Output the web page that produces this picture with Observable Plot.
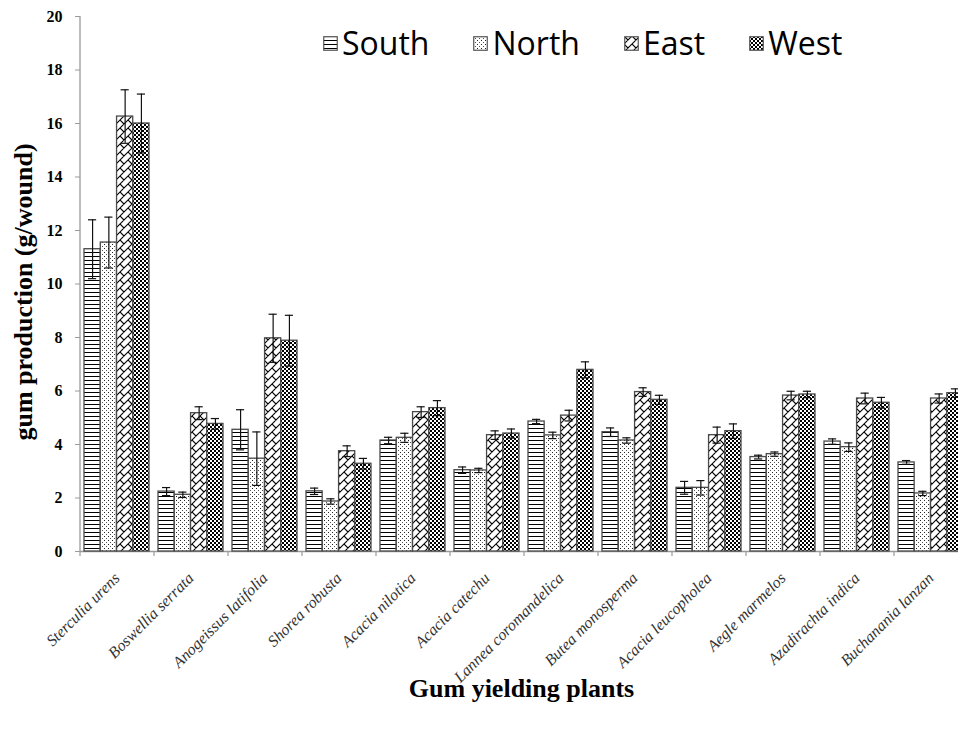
<!DOCTYPE html>
<html>
<head>
<meta charset="utf-8">
<script src="https://cdn.jsdelivr.net/npm/d3@7"></script>
<script src="https://cdn.jsdelivr.net/npm/@observablehq/plot@0.6"></script>
<style>
  html, body { margin: 0; padding: 0; background: #fff; overflow: hidden; }
  #wrap { position: relative; width: 958px; height: 731px; }
  #legend { position: absolute; left: 323px; top: 27px; display: flex; align-items: center; gap: 44px;
    font-family: "Open Sans", sans-serif; font-size: 32px; color: #000; line-height: 1; }
  #legend .item { display: flex; align-items: center; gap: 4px; }
  #legend svg { display: block; }
  #defs { position: absolute; width: 0; height: 0; }
</style>
</head>
<body>
<svg id="defs" aria-hidden="true">
  <defs>
    <pattern id="pat-0" patternUnits="userSpaceOnUse" width="6" height="4">
      <rect width="6" height="4" fill="#fff"/>
      <rect y="0" width="6" height="1" fill="#000"/>
    </pattern>
    <pattern id="pat-1" patternUnits="userSpaceOnUse" width="4" height="4">
      <rect width="4" height="4" fill="#fff"/>
      <rect x="0" y="0" width="1" height="1" fill="#222"/>
      <rect x="2" y="2" width="1" height="1" fill="#555"/>
    </pattern>
    <pattern id="pat-2" patternUnits="userSpaceOnUse" width="8" height="8">
      <rect width="8" height="8" fill="#fff"/>
      <path d="M-1,9 L9,-1 M-1,1 L1,-1 M7,9 L9,7 M0,0 L4,4" stroke="#000" stroke-width="1.1" fill="none"/>
    </pattern>
    <pattern id="pat-3" patternUnits="userSpaceOnUse" width="4" height="4">
      <rect width="4" height="4" fill="#fff"/>
      <rect x="0" y="0" width="2" height="2" fill="#000"/>
      <rect x="2" y="2" width="2" height="2" fill="#000"/>
    </pattern>
  </defs>
</svg>
<div id="wrap">
  <div id="chart"></div>
  <div id="legend"></div>
</div>
<script>
const plants = ["Sterculia urens", "Boswellia serrata", "Anogeissus latifolia", "Shorea robusta",
  "Acacia nilotica", "Acacia catechu", "Lannea coromandelica", "Butea monosperma",
  "Acacia leucopholea", "Aegle marmelos", "Azadirachta indica", "Buchanania lanzan"];
const series = ["South", "North", "East", "West"];

const south    = [11.30, 2.24, 4.55, 2.25, 4.15, 3.04, 4.86, 4.46, 2.38, 3.53, 4.11, 3.33];
const southErr = [1.10, 0.15, 0.75, 0.12, 0.12, 0.12, 0.08, 0.16, 0.24, 0.07, 0.10, 0.07];
const north    = [11.55, 2.12, 3.47, 1.87, 4.25, 3.03, 4.34, 4.15, 2.38, 3.64, 3.90, 2.17];
const northErr = [0.95, 0.10, 1.00, 0.10, 0.17, 0.08, 0.12, 0.10, 0.27, 0.08, 0.16, 0.08];
const east     = [16.26, 5.17, 7.97, 3.75, 5.21, 4.35, 5.08, 5.96, 4.35, 5.83, 5.72, 5.72];
const eastErr  = [1.00, 0.24, 0.90, 0.20, 0.20, 0.16, 0.20, 0.16, 0.30, 0.16, 0.20, 0.17];
const west     = [16.00, 4.77, 7.88, 3.28, 5.36, 4.41, 6.79, 5.67, 4.50, 5.87, 5.56, 5.92];
const westErr  = [1.10, 0.20, 0.95, 0.20, 0.28, 0.17, 0.30, 0.17, 0.27, 0.12, 0.20, 0.16];

const yTicks = [0, 2, 4, 6, 8, 10, 12, 14, 16, 18, 20];
const yLabel = "gum production (g/wound)";
const xLabel = "Gum yielding plants";

const values = [south, north, east, west];
const errors = [southErr, northErr, eastErr, westErr];
const bySeries = series.map((s, j) => plants.map((p, i) => ({plant: p, series: s, value: values[j][i], err: errors[j][i]})));

const xRange = [80, 968];
const padIn = 0.12, padOut = 0.06;
const step = (xRange[1] - xRange[0]) / plants.length;
const bw = step * (1 - padIn);
const w = bw / 4;

const marks = [];
// axis lines
marks.push(Plot.ruleY([0], {stroke: "#9a9a9a", strokeWidth: 1.3}));
marks.push(Plot.ruleX([plants[0]], {x: d => d, dx: -step / 2, y1: 0, y2: 20, stroke: "#9a9a9a", strokeWidth: 1.3}));
// category boundary ticks
marks.push(Plot.ruleX(plants, {x: d => d, dx: -step / 2, y1: 0, y2: 0, insetBottom: -5, stroke: "#9a9a9a", strokeWidth: 1.2}));

bySeries.forEach((d, j) => {
  marks.push(Plot.barY(d, {x: "plant", y: "value", fill: `url(#pat-${j})`, stroke: "#4a4a4a", strokeWidth: 1.3,
    insetLeft: j * w, insetRight: (3 - j) * w}));
});
bySeries.forEach((d, j) => {
  marks.push(Plot.ruleX(d, {x: "plant", y1: v => v.value - v.err, y2: v => v.value + v.err,
    dx: -bw / 2 + (j + 0.5) * w, stroke: "#111", strokeWidth: 1.2}));
  marks.push(Plot.tickY(d, {x: "plant", y: v => v.value + v.err, insetLeft: j * w + 4, insetRight: (3 - j) * w + 4, stroke: "#111", strokeWidth: 1.2}));
  marks.push(Plot.tickY(d, {x: "plant", y: v => v.value - v.err, insetLeft: j * w + 4, insetRight: (3 - j) * w + 4, stroke: "#111", strokeWidth: 1.2}));
});

marks.push(Plot.axisY({ticks: yTicks, tickSize: 5, tickPadding: 13, stroke: "#9a9a9a", fill: "#000",
  fontSize: 16, fontWeight: "bold", fontFamily: "Liberation Serif", label: null}));
marks.push(Plot.axisX({tickSize: 0, tickRotate: -45, tickPadding: 24, fill: "#333",
  fontSize: 16, fontStyle: "italic", fontFamily: "Liberation Serif", label: null}));

marks.push(Plot.text([yLabel], {text: d => d, frameAnchor: "left", rotate: -90, dx: -57, dy: 8,
  textAnchor: "middle", fontSize: 26, fontWeight: "bold", fontFamily: "Liberation Serif", fill: "#000", lineAnchor: "middle"}));
marks.push(Plot.text([xLabel], {text: d => d, frameAnchor: "bottom", dy: 137, dx: 2,
  textAnchor: "middle", fontSize: 26, fontWeight: "bold", fontFamily: "Liberation Serif", fill: "#000", lineAnchor: "middle"}));

const chart = Plot.plot({
  width: 958,
  height: 731,
  marginLeft: 80,
  marginRight: 0,
  marginTop: 16,
  marginBottom: 180,
  style: {background: "#fff", overflow: "hidden"},
  x: {domain: plants, range: xRange, paddingInner: padIn, paddingOuter: padOut, axis: null},
  y: {domain: [0, 20], axis: null},
  marks
});
document.getElementById("chart").appendChild(chart);

// legend
const legend = d3.select("#legend");
series.forEach((s, j) => {
  const item = legend.append("div").attr("class", "item");
  const sw = item.append("svg").attr("width", 15).attr("height", 15);
  sw.append("rect").attr("x", 0.75).attr("y", 0.75).attr("width", 13.5).attr("height", 13.5)
    .attr("fill", `url(#pat-${j})`).attr("stroke", "#555").attr("stroke-width", 1.2);
  item.append("span").text(s);
});
</script>
</body>
</html>
